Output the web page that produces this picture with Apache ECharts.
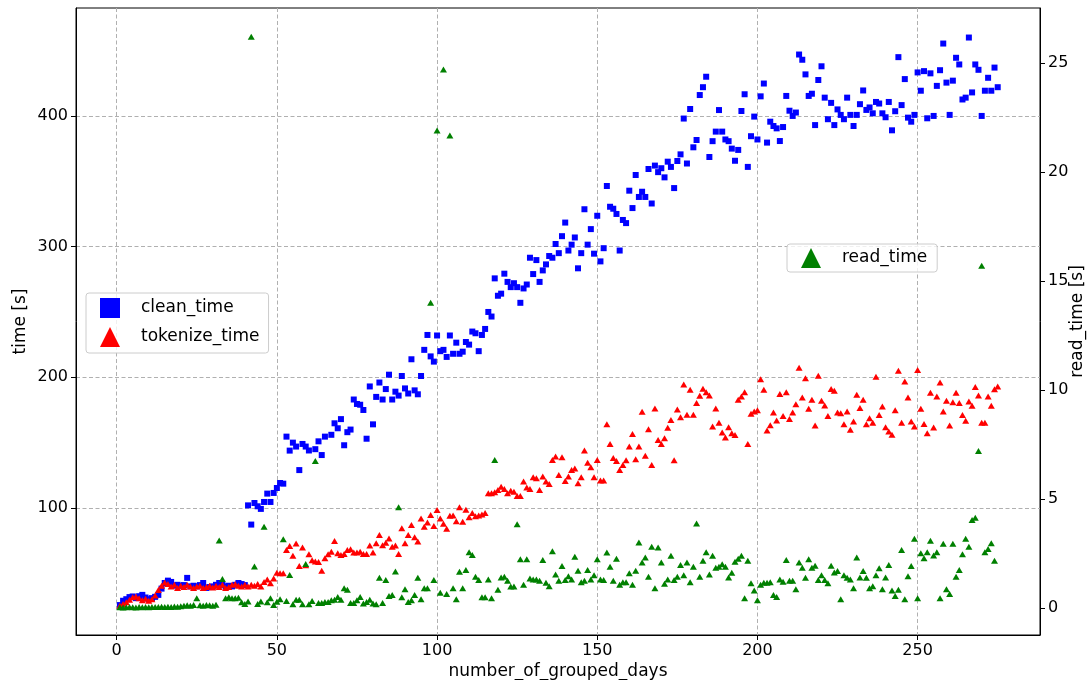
<!DOCTYPE html>
<html>
<head>
<meta charset="utf-8">
<script src="https://cdn.jsdelivr.net/npm/echarts@6/dist/echarts.min.js"></script>
<style>
html, body {margin: 0; padding: 0; background: #fff;}
#chart {width: 1089px; height: 680px;}
</style>
</head>
<body>
<div id="chart"></div>
<script>
// tick labels
const xTicks = [0, 50, 100, 150, 200, 250];
const timeTicks = [100, 200, 300, 400];
const readTicks = [0, 5, 10, 15, 20, 25];

// [number_of_grouped_days, seconds]
const cleanTime = [
  [1,25.7],[2,29],[3,30.2],[4,31.8],[5,32.3],[6,31],[7,32.5],[8,33.5],[9,31.5],[10,30.2],
  [11,31],[12,32],[13,33.5],[14,38.3],[15,42.6],[16,44.4],[17,43.4],[18,40.5],[19,41.2],[20,40.5],
  [21,41],[22,46.5],[23,40],[24,40.5],[25,40],[26,41],[27,42.6],[28,38.8],[29,39.5],[30,40],
  [31,41.2],[32,42.6],[33,41.2],[34,40],[35,40.5],[36,40],[37,41.2],[38,42.6],[39,41.8],[40,41],
  [41,102],[42,87.3],[43,103.8],[44,101.3],[45,99.3],[46,104.6],[47,111],[48,104.6],[49,111.5],[50,115.3],
  [51,119.1],[52,118.6],[53,154.6],[54,143.9],[55,150],[56,147],[57,129],[58,149],[59,147],[60,144],
  [62,145],[63,151],[64,140.5],[65,154.6],[67,156],[68,164.8],[69,161],[70,168],[71,148],[72,158],
  [73,160],[74,183],[75,179.6],[76,179],[77,175],[78,153],[79,193],[80,164],[81,185],[82,196],
  [83,183],[84,191],[85,202],[86,183],[87,189],[88,186],[89,201],[90,191.5],[91,187.6],[92,213.8],
  [93,190],[94,187],[95,201],[96,221],[97,232.4],[98,216],[99,212],[100,232],[101,220],[102,221],
  [103,215.6],[104,232],[105,218],[106,226.5],[107,218],[108,219.6],[109,227],[110,225],[111,235],[112,233.7],
  [113,220],[114,232.4],[115,237],[116,250],[117,246.5],[118,275.7],[119,262.4],[120,264],[121,279.3],[122,273],
  [123,269],[124,272],[125,269],[126,257],[127,268],[128,271],[129,291.5],[130,279],[131,289.7],[132,273],
  [133,281.8],[134,286.4],[135,292.8],[136,291.5],[137,302],[138,295],[139,308],[140,318.4],[141,297],[142,301.5],
  [143,307],[144,283.4],[145,295],[146,328.6],[147,301.5],[148,313.4],[149,294.6],[150,323.6],[151,288.7],[152,298.8],
  [153,346.4],[154,330.5],[155,329],[156,325],[157,297],[158,320.4],[159,318],[160,342.8],[161,329.5],[162,354.8],
  [163,338],[164,342],[165,338],[166,359.4],[167,333],[168,362],[169,357],[170,360],[171,353],[172,365],
  [173,361],[174,344.8],[175,365.5],[176,370.6],[177,398],[178,363.6],[179,405.3],[180,376],[181,381.6],[182,416],
  [183,422],[184,430],[185,368.6],[186,380.7],[187,388],[188,404.5],[189,388],[190,382],[191,380.7],[192,375],
  [193,365.7],[194,374],[195,403.8],[196,416.6],[197,361],[198,384.5],[199,399.5],[200,382],[201,415],[202,424.8],
  [203,379.6],[204,395.6],[205,392.3],[206,390.5],[207,380.8],[208,391.5],[209,415.3],[210,404],[211,400],[212,402.6],
  [213,447],[214,443],[215,431.8],[216,415.3],[217,417],[218,393],[219,427.5],[220,438],[221,414],[222,397.5],
  [223,410],[224,393],[225,405],[226,400.8],[227,397.5],[228,414],[229,400.8],[230,392.3],[231,400.8],[232,409],
  [233,419.5],[234,404.6],[235,406.5],[236,402],[237,410.7],[238,409.5],[239,402],[240,399],[241,410.7],[242,389],
  [243,403.6],[244,445],[245,408.3],[246,428.2],[247,398.7],[248,395.6],[249,400.8],[250,433.3],[251,419.3],[252,434.3],
  [253,398.2],[254,432.6],[255,400],[256,423],[257,435],[258,455.4],[259,425.5],[260,400.8],[261,427],[262,444.5],
  [263,439.4],[264,412.6],[265,414],[266,460],[267,418],[268,439.4],[269,435.3],[270,400],[271,419.3],[272,429.2],
  [273,419.3],[274,437],[275,422]
];

const tokenizeTime = [
  [1,25.2],[2,26.5],[3,27.8],[4,29.8],[5,31.6],[6,32.3],[7,31],[8,29.3],[9,30.5],[10,29],
  [11,30.2],[12,33],[13,37.3],[14,40.5],[15,43],[16,41.8],[17,40],[18,41.2],[19,38.8],[20,40.5],
  [21,39.5],[22,41.2],[23,40],[24,38.8],[25,40],[26,40.5],[27,38.8],[28,39.5],[29,40.5],[30,39.2],
  [31,40.5],[32,39.5],[33,41.2],[34,38.8],[35,39.5],[36,41.2],[37,41.8],[38,40.5],[39,40],[40,41.2],
  [41,40],[42,41.2],[43,40.5],[44,41.8],[45,40],[46,43.4],[47,45.2],[48,42.4],[49,46],[50,50.5],
  [51,50],[52,50],[53,67.9],[54,71],[55,63.5],[56,72.8],[57,55.6],[58,69.7],[59,56.2],[60,64.6],
  [61,60],[62,59],[63,58.6],[64,52],[65,61.5],[66,64.6],[67,66.6],[68,74.8],[69,65.4],[70,64],
  [71,64.8],[72,67.9],[73,68.4],[74,65.9],[75,65.9],[76,66.6],[77,64.8],[78,64.8],[79,71.2],[80,65.9],
  [81,73],[82,79.3],[83,71.5],[84,73.4],[85,76.7],[86,70.3],[87,71.2],[88,64.8],[89,84.4],[90,73],
  [91,79.3],[92,87],[93,77.6],[94,74.3],[95,92],[96,85.7],[97,88.8],[98,94.6],[99,86.2],[100,98.5],
  [101,92],[102,88],[103,84.2],[104,94],[105,94.3],[106,89.8],[107,100.5],[108,89.4],[109,98.7],[110,92.9],
  [111,96.2],[112,93.7],[113,94.3],[114,95],[115,96.2],[116,111.2],[117,111.2],[118,112],[119,113.8],[120,116.3],
  [121,114.6],[122,111.2],[123,113.2],[124,112.5],[125,109.2],[126,109.2],[127,120.2],[128,115.6],[129,114.6],[130,123.5],
  [131,122.8],[132,113.8],[133,124],[134,120.2],[135,118.4],[136,136.8],[137,139.3],[138,125.3],[139,138.8],[140,120.7],
  [141,124],[142,129],[143,130.3],[144,118.9],[145,123.5],[146,143.9],[147,134.7],[148,131.1],[149,123.5],[150,136.8],
  [151,121],[152,121],[153,164],[154,148.9],[155,138.3],[156,136],[157,129],[158,132.8],[159,136.6],[160,147],
  [161,156.7],[162,137.3],[163,147],[164,173.7],[165,140],[166,160.3],[167,132.8],[168,176.2],[169,152],[170,148.9],
  [171,153.4],[172,161.4],[173,167.3],[174,136.6],[175,175.4],[176,169.4],[177,194.4],[178,171.4],[179,190.5],[180,171.4],
  [181,180.3],[182,185.9],[183,191.3],[184,188.5],[185,186],[186,162.3],[187,176.2],[188,165.3],[189,157.7],[190,154],
  [191,161.8],[192,157.2],[193,155.9],[194,182.9],[195,185.4],[196,188.5],[197,148.9],[198,172.1],[199,173.9],[200,174.7],
  [201,198.5],[202,190.5],[203,159.2],[204,163.3],[205,173],[206,167],[207,187.2],[208,170.4],[209,188.5],[210,168],
  [211,173],[212,179.4],[213,207.4],[214,184.6],[215,199.2],[216,175.9],[217,182.8],[218,163.1],[219,201.2],[220,182],
  [221,178.5],[222,170.4],[223,191],[224,189.8],[225,173],[226,172.5],[227,164],[228,173.8],[229,159.8],[230,166.2],
  [231,186.7],[232,176.5],[233,182.8],[234,164],[235,168.7],[236,165.3],[237,200.5],[238,171.2],[239,177.6],[240,161.8],
  [241,158.5],[242,156],[243,174.7],[244,205],[245,165.3],[246,196.7],[247,184.6],[248,166.2],[249,162.3],[250,205.6],
  [251,175.9],[252,164.3],[253,157.2],[254,188.2],[255,161.5],[256,185.4],[257,196],[258,173.8],[259,182],[260,163.1],
  [261,181],[262,188.2],[263,180.3],[264,171.2],[265,166.8],[266,181.4],[267,178.2],[268,192.5],[269,186.1],[270,165.3],
  [271,165.3],[272,185.4],[273,178.2],[274,190.9],[275,193]
];

// right axis
const readTime = [
  [1,0.03],[2,0.02],[3,0.03],[4,0.04],[5,0.03],[6,0.02],[7,0.04],[8,0.03],[9,0.05],[10,0.03],
  [11,0.04],[12,0.05],[13,0.04],[14,0.06],[15,0.05],[16,0.06],[17,0.05],[18,0.07],[19,0.06],[20,0.08],
  [21,0.1],[22,0.12],[23,0.1],[24,0.14],[25,0.44],[26,0.12],[27,0.1],[28,0.14],[29,0.12],[30,0.1],
  [31,0.15],[32,3.09],[33,1.33],[34,0.44],[35,0.49],[36,0.45],[37,0.44],[38,0.47],[39,0.26],[40,0.18],
  [41,0.3],[42,26.2],[43,1.9],[44,0.18],[45,0.3],[46,3.73],[47,0.26],[48,0.44],[49,0.14],[50,0.29],
  [51,0.4],[52,3.15],[53,0.32],[54,1.51],[55,0.17],[56,0.38],[57,0.38],[58,0.17],[59,2.02],[60,0.17],
  [61,0.32],[62,6.74],[63,0.23],[64,0.23],[65,0.27],[66,0.27],[67,0.35],[68,0.38],[69,0.5],[70,0.38],
  [71,0.9],[72,0.83],[73,0.23],[74,0.23],[75,0.35],[76,0.5],[77,0.2],[78,0.27],[79,0.38],[80,0.2],
  [81,0.17],[82,1.39],[83,0.23],[84,1.28],[85,0.55],[86,0.6],[87,1.67],[88,4.62],[89,0.49],[90,0.86],
  [91,0.27],[92,0.35],[93,0.6],[94,1.39],[95,0.4],[96,0.9],[97,0.9],[98,14.0],[99,1.28],[100,21.9],
  [101,0.7],[102,24.7],[103,0.64],[104,21.67],[105,0.9],[106,0.4],[107,1.66],[108,0.9],[109,1.74],[110,2.55],
  [111,2.43],[112,1.43],[113,1.28],[114,0.49],[115,0.49],[116,1.31],[117,0.44],[118,6.79],[119,0.83],[120,1.4],
  [121,1.43],[122,1.25],[123,0.98],[124,0.98],[125,3.84],[126,2.23],[127,1.06],[128,2.23],[129,1.35],[130,1.31],
  [131,1.31],[132,1.25],[133,2.2],[134,1.16],[135,1.0],[136,2.6],[137,1.54],[138,1.25],[139,1.92],[140,1.28],
  [141,1.46],[142,1.31],[143,2.35],[144,1.71],[145,1.18],[146,1.25],[147,1.74],[148,1.31],[149,1.5],[150,2.23],
  [151,1.31],[152,1.28],[153,2.54],[154,1.89],[155,1.25],[156,2.26],[157,1.06],[158,1.18],[159,1.18],[160,1.59],
  [161,1.06],[162,1.71],[163,3.0],[164,2.08],[165,2.32],[166,1.43],[167,2.81],[168,0.9],[169,2.77],[170,2.08],
  [171,1.11],[172,1.31],[173,2.39],[174,1.28],[175,1.43],[176,1.97],[177,1.5],[178,2.08],[179,1.18],[180,1.89],
  [181,3.88],[182,1.43],[183,2.17],[184,2.55],[185,1.54],[186,2.39],[187,1.85],[188,1.89],[189,2.0],[190,1.89],
  [191,1.4],[192,1.62],[193,2.12],[194,2.26],[195,2.39],[196,0.44],[197,2.17],[198,1.13],[199,0.8],[200,0.35],
  [201,1.06],[202,1.16],[203,1.16],[204,1.18],[205,0.6],[206,0.5],[207,1.31],[208,1.2],[209,2.2],[210,1.25],
  [211,1.25],[212,0.86],[213,2.08],[214,1.85],[215,1.39],[216,2.23],[217,1.85],[218,1.94],[219,1.28],[220,1.5],
  [221,1.28],[222,1.13],[223,1.94],[224,1.63],[225,1.69],[226,0.4],[227,1.5],[228,1.39],[229,1.31],[230,0.9],
  [231,2.32],[232,1.4],[233,1.69],[234,1.39],[235,0.9],[236,1.0],[237,1.5],[238,1.82],[239,0.86],[240,1.4],
  [241,1.97],[242,0.8],[243,0.55],[244,0.83],[245,2.66],[246,0.4],[247,1.46],[248,1.92],[249,3.17],[250,0.44],
  [251,2.51],[252,2.28],[253,2.55],[254,3.08],[255,2.41],[256,2.55],[257,0.44],[258,2.94],[259,0.86],[260,0.64],
  [261,2.94],[262,1.43],[263,1.74],[264,2.46],[265,3.17],[266,2.81],[267,4.04],[268,4.14],[269,7.2],[270,15.7],
  [271,2.55],[272,2.7],[273,2.97],[274,2.17]
];

const font = 'DejaVu Sans';
let chart = echarts.init(document.getElementById('chart'));

let legendBox = {
    orient: 'vertical',
    itemWidth: 20,
    itemHeight: 20,
    itemGap: 9,
    backgroundColor: 'rgba(255,255,255,0.8)',
    borderColor: '#cccccc',
    borderWidth: 1,
    borderRadius: 3,
    textStyle: {fontFamily: font, fontSize: 17, color: '#000', padding: [0, 0, 0, 16]}
};

chart.setOption({
    animation: false,
    grid: {
        left: 76, right: 49, top: 8, bottom: 45,
        outerBoundsMode: 'none', containLabel: false,
        show: true, borderColor: '#000', borderWidth: 1
    },
    xAxis: {
        type: 'value', min: -12.7, max: 288.2,
        name: 'number_of_grouped_days', nameLocation: 'middle', nameGap: 28,
        nameMoveOverlap: false,
        nameTextStyle: {fontFamily: font, fontSize: 17, color: '#000'},
        axisLine: {show: true, onZero: false, lineStyle: {color: '#000', width: 1}},
        axisTick: {show: true, length: 5, customValues: xTicks, lineStyle: {color: '#000'}},
        axisLabel: {customValues: xTicks, fontFamily: font, fontSize: 16, color: '#000', margin: 8},
        splitLine: {show: true, lineStyle: {color: '#b0b0b0', type: [4, 2.5], width: 1}}
    },
    yAxis: [{
        type: 'value', min: 2.8, max: 482.6, position: 'left',
        name: 'time [s]', nameLocation: 'middle', nameRotate: 90, nameGap: 47,
        nameMoveOverlap: false,
        nameTextStyle: {fontFamily: font, fontSize: 17, color: '#000'},
        axisLine: {show: true, onZero: false, lineStyle: {color: '#000', width: 1}},
        axisTick: {show: true, length: 5, customValues: timeTicks, lineStyle: {color: '#000'}},
        axisLabel: {customValues: timeTicks, fontFamily: font, fontSize: 16, color: '#000', margin: 8},
        splitLine: {show: true, lineStyle: {color: '#b0b0b0', type: [4, 2.5], width: 1}}
    }, {
        type: 'value', min: -1.24, max: 27.52, position: 'right',
        name: 'read_time [s]', nameLocation: 'middle', nameRotate: 90, nameGap: 29,
        nameMoveOverlap: false,
        nameTextStyle: {fontFamily: font, fontSize: 17, color: '#000'},
        axisLine: {show: true, onZero: false, lineStyle: {color: '#000', width: 1}},
        axisTick: {show: true, length: 5, customValues: readTicks, lineStyle: {color: '#000'}},
        axisLabel: {customValues: readTicks, fontFamily: font, fontSize: 16, color: '#000', margin: 8},
        splitLine: {show: false}
    }],
    legend: [
        Object.assign({}, legendBox, {
            left: 86, top: 293, padding: [5, 9, 6, 14],
            data: [{name: 'clean_time', icon: 'rect'}, {name: 'tokenize_time', icon: 'triangle'}]
        }),
        Object.assign({}, legendBox, {
            left: 787, top: 244, padding: [4, 10, 4, 14],
            data: [{name: 'read_time', icon: 'triangle'}]
        })
    ],
    series: [{
        name: 'clean_time', type: 'scatter', yAxisIndex: 0,
        symbol: 'rect', symbolSize: 6,
        itemStyle: {color: '#0000ff', opacity: 1},
        data: cleanTime
    }, {
        name: 'tokenize_time', type: 'scatter', yAxisIndex: 0,
        symbol: 'triangle', symbolSize: [7, 6],
        itemStyle: {color: '#ff0000', opacity: 1},
        data: tokenizeTime
    }, {
        name: 'read_time', type: 'scatter', yAxisIndex: 1,
        symbol: 'triangle', symbolSize: [7, 6],
        itemStyle: {color: '#008000', opacity: 1},
        data: readTime
    }]
});
</script>
</body>
</html>
